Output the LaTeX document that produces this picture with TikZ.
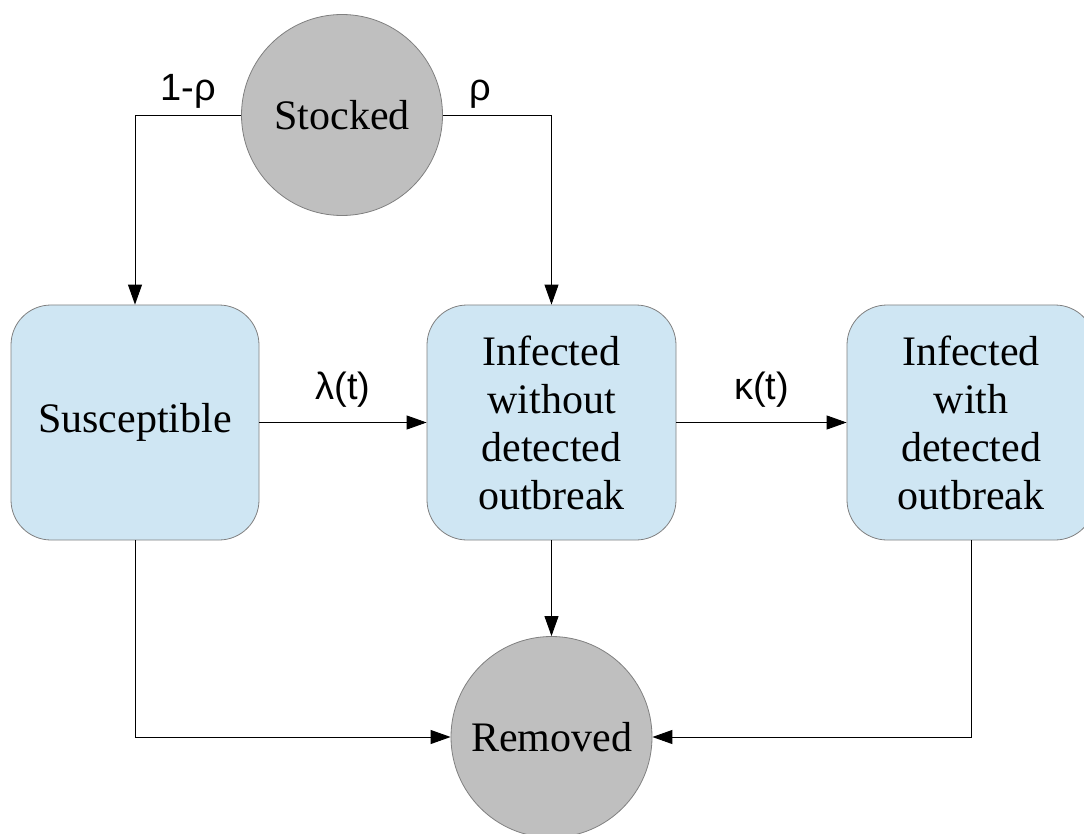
\documentclass[tikz,border=0pt]{standalone}
\usepackage{fontspec}
\setmainfont{Liberation Serif}
\newfontfamily\lblfont{Liberation Sans}
\usetikzlibrary{arrows.meta}
\definecolor{boxblue}{RGB}{207,230,243}
\definecolor{poolgray}{RGB}{191,191,191}
\begin{document}
\begin{tikzpicture}[x=1pt,y=-1pt,>={Triangle[length=20pt,width=14pt]},
    state/.style={draw=gray,line width=0.8pt,fill=boxblue,rounded corners=40pt,
        minimum width=248pt,minimum height=235pt,align=center,
        font=\fontsize{42}{48}\selectfont},
    pool/.style={circle,draw=gray,line width=0.8pt,fill=poolgray,inner sep=0pt,
        minimum size=201pt,font=\fontsize{42}{48}\selectfont},
    rate/.style={font=\lblfont\fontsize{38}{44}\selectfont,inner sep=2pt},
    flow/.style={->,line width=0.9pt}]
    \useasboundingbox (0,0) rectangle (1084,834);
    \def\ym{422.5} % height of the box row
    \node[pool] (stocked) at (342,115) {Stocked};
    \node[state] (susc) at (135,\ym) {Susceptible};
    \node[state,minimum width=249pt] (infu) at (551.5,\ym) {Infected\\without\\detected\\outbreak};
    \node[state] (infd) at (971,\ym) {Infected\\with\\detected\\outbreak};
    \node[pool] (removed) at (551.5,737) {Removed};
    \draw[flow] (stocked) -| node[rate,pos=0.25,above=4pt]{1-ρ} (susc);
    \draw[flow] (stocked) -| node[rate,pos=0.17,above=4pt]{ρ} (infu);
    \draw[flow] (susc) -- node[rate,above=13pt]{λ(t)} (infu);
    \draw[flow] (infu) -- node[rate,above=13pt]{κ(t)} (infd);
    \draw[flow] (infu) -- (removed);
    \draw[flow] (susc) |- (removed);
    \draw[flow] (infd) |- (removed);
\end{tikzpicture}
\end{document}
